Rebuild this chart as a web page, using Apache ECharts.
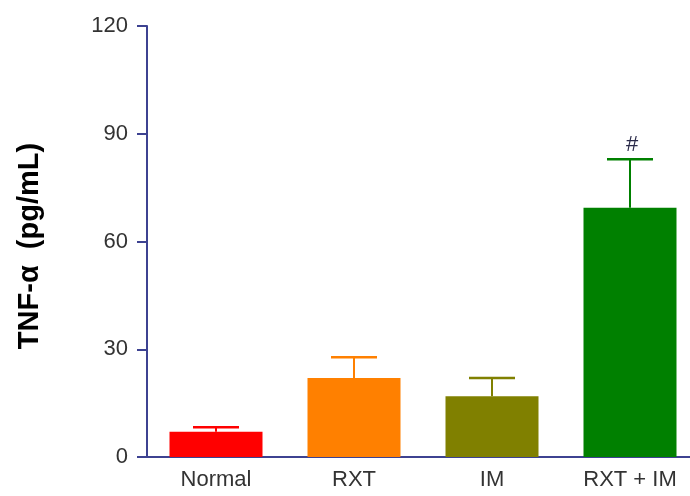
<!DOCTYPE html>
<html>
<head>
<meta charset="utf-8">
<script src="https://cdn.jsdelivr.net/npm/echarts@6/dist/echarts.min.js"></script>
<style>
  html, body { margin: 0; padding: 0; background: #fff; }
  #chart { width: 690px; height: 496px; }
</style>
</head>
<body>
<div id="chart"></div>
<script>
// Groups and measured TNF-α levels (mean ± SEM)
var groups = ['Normal', 'RXT', 'IM', 'RXT + IM'];
var means = [7.0, 22.0, 16.9, 69.4];
var sems = [1.3, 5.8, 5.1, 13.5];
var barColors = ['#ff0000', '#ff8000', '#808000', '#008000'];
var sigMarks = ['', '', '', '#'];
var yTicks = [0, 30, 60, 90, 120];

var axisColor = '#3d4291';
var textFont = 'Liberation Sans, Arial, sans-serif';

var chart = echarts.init(document.getElementById('chart'));

var barData = means.map(function (v, i) {
  return { value: v, itemStyle: { color: barColors[i] } };
});
var errData = means.map(function (v, i) {
  return [i, v, v + sems[i]];
});

chart.setOption({
  animation: false,
  backgroundColor: '#ffffff',
  // plot area runs a little past the right edge of the canvas
  grid: { left: 147, width: 552, top: 26, bottom: 39, outerBoundsMode: 'none', containLabel: false },
  xAxis: {
    type: 'category',
    data: groups,
    axisLine: { lineStyle: { color: axisColor, width: 2 } },
    axisTick: { show: false },
    axisLabel: { color: '#333333', fontSize: 22, fontFamily: textFont, margin: 12 }
  },
  yAxis: {
    type: 'value',
    min: yTicks[0],
    max: yTicks[yTicks.length - 1],
    interval: yTicks[1] - yTicks[0],
    name: 'TNF-α  (pg/mL)',
    nameLocation: 'middle',
    nameRotate: 90,
    nameGap: 103,
    nameTextStyle: {
      color: '#000000', fontSize: 29, fontWeight: 'bold', fontFamily: textFont,
      padding: [0, 9, 0, 0]
    },
    axisLine: { show: true, lineStyle: { color: axisColor, width: 2 } },
    axisTick: { show: true, inside: false, length: 10, lineStyle: { color: axisColor, width: 2 } },
    axisLabel: { color: '#333333', fontSize: 22, fontFamily: textFont, margin: 19 },
    splitLine: { show: false }
  },
  series: [
    {
      type: 'bar',
      data: barData,
      barWidth: 93,
      z: 2
    },
    {
      type: 'custom',
      data: errData,
      z: 3,
      renderItem: function (params, api) {
        var i = api.value(0);
        var base = api.coord([i, api.value(1)]);
        var top = api.coord([i, api.value(2)]);
        var half = 23;
        var color = barColors[params.dataIndex];
        var children = [
          { type: 'line', shape: { x1: base[0], y1: base[1], x2: top[0], y2: top[1] },
            style: { stroke: color, lineWidth: 2 } },
          { type: 'line', shape: { x1: top[0] - half, y1: top[1], x2: top[0] + half, y2: top[1] },
            style: { stroke: color, lineWidth: 2.5 } }
        ];
        var mark = sigMarks[params.dataIndex];
        if (mark) {
          children.push({
            type: 'text',
            x: top[0] + 2, y: top[1] - 3,
            style: { text: mark, fill: '#2b2b4a', font: '22px ' + textFont, align: 'center', verticalAlign: 'bottom' }
          });
        }
        return { type: 'group', children: children };
      }
    }
  ]
});
</script>
</body>
</html>
